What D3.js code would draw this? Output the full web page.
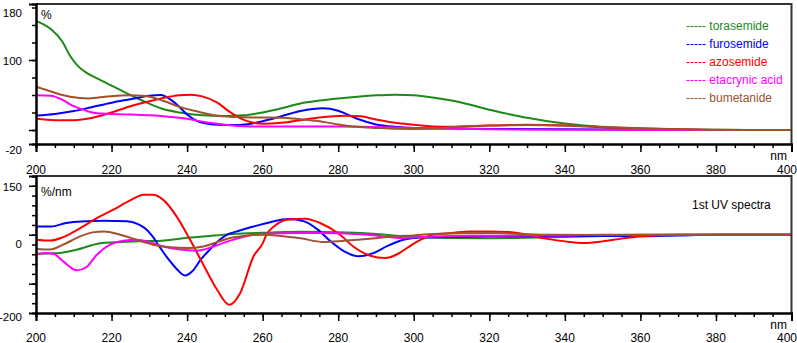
<!DOCTYPE html>
<html>
<head>
<meta charset="utf-8">
<script src="https://cdn.jsdelivr.net/npm/d3@7"></script>
<style>
  body { margin: 0; background: #fff; }
  svg { display: block; font-family: "Liberation Sans", Arial, sans-serif; }
</style>
</head>
<body>
<div id="chart"></div>
<script>
// series names + colours
const names = ['torasemide', 'furosemide', 'azosemide', 'etacrynic acid', 'bumetanide'];
const colors = ['#1b8a1b', '#0000ff', '#ff0000', '#ff00ff', '#a0522d'];

// x ticks (nm)
const majorNm = [200, 220, 240, 260, 280, 300, 320, 340, 360, 380, 400];

// zero order spectra, [nm, %]
const toraAbs = [[200,156],[202,151],[204,144],[207,126],[209,106],[211,92],[213,83],[216,74],[219,66],[222,58],[225,50],[229,40],[233,31],[238,25],[244,21],[250,20],[255,21],[260,25],[265,31],[270,38],[275,42],[280,45],[285,47.5],[290,49.5],[295,50.5],[300,49.7],[305,46.5],[310,42],[315,36],[320,29],[325,23],[330,17.5],[335,13],[340,9.3],[345,6.3],[350,4],[355,2.4],[360,1.3],[370,0.5],[380,0.2],[400,0]];
const furoAbs = [[200,20.7],[205,23],[210,27],[215,33],[220,39],[225,44],[230,49],[233,50],[236,42],[238,33],[240,22],[243,12],[247,8],[252,7],[256,8.3],[260,12.6],[265,19.7],[270,27],[276,31],[280,27.5],[285,16],[290,8],[295,4.6],[300,3],[310,2],[320,1.5],[340,1],[360,0.5],[380,0],[400,0]];
const azoAbs = [[200,16],[205,14],[210,14],[215,17.5],[220,25],[225,34],[230,41],[234,46],[238,49.5],[241,50.3],[244,48],[248,39],[251,27],[254,17],[257,11],[260,9],[265,10.3],[270,14],[275,18],[282,20.5],[286,19.5],[290,15],[295,10.3],[300,7.5],[305,5],[310,4.6],[320,6.4],[330,7.4],[340,6.4],[350,4],[360,2],[370,1],[380,0],[400,0]];
const etaAbs = [[200,49.7],[204,49],[207,43],[210,34],[213,28],[216,24],[220,23],[225,22],[230,21],[235,19],[240,16],[245,11],[250,7.5],[255,5.5],[260,5],[280,5],[300,3],[320,1],[340,0.5],[360,0],[400,0]];
const bumAbs = [[200,61.7],[204,55],[207,50],[211,46],[214,45],[219,48],[225,49.7],[229,48.5],[234,41],[238,33],[243,26],[247,21],[251,19],[255,18.3],[260,17.9],[265,17.5],[270,15.4],[275,12.6],[280,8],[285,4.6],[290,3],[295,1.8],[300,1.6],[305,2.5],[310,4],[320,6.4],[330,7],[340,6.4],[350,4.6],[360,2.4],[370,1],[380,0.3],[400,0]];

// 1st derivative spectra, [nm, %/nm]
const toraDer = [[200,-48.5],[205,-47.5],[208,-44],[211,-38],[214,-29],[217,-22],[221,-19.5],[227,-17],[234,-14.5],[240,-8],[246,-3],[252,1.5],[260,5],[270,7.5],[280,6.5],[290,2],[300,-6],[310,-8.5],[320,-9],[330,-8],[340,-6],[350,-3],[360,-1],[370,0],[400,0]];
const furoDer = [[200,21],[204,21],[208,30],[212,34],[218,35.5],[224,34.5],[227,27],[229,15],[230.5,0],[233,-35],[235,-62],[237.3,-88],[239.4,-104],[241.5,-92],[243.5,-65],[246,-38],[248.5,-14],[251,2],[253.2,8.5],[257.6,21],[262,32],[266.8,40],[271,34],[274.6,13],[278,-17],[281.6,-42.5],[285.3,-55],[289.3,-47],[292.8,-30],[297.2,-13],[301.7,-7],[310,-6],[320,-4],[340,-3],[360,-4],[370,-2],[380,0],[400,0]];
const azoDer = [[200,-12.8],[203.7,-15],[207.2,-6],[211.7,17],[216.1,42.5],[220.5,64],[224.9,87.5],[228.5,102],[231,102],[233.7,89],[237.2,47],[240.8,-13],[244.3,-76.5],[247.9,-140],[251.2,-179],[254,-150],[257.6,-55],[260,-22],[261,0],[263,21],[266.4,38],[271.3,41],[275.2,30],[280.5,0],[284,-30],[288.5,-53.6],[292.4,-59.5],[296,-48],[298.5,-32],[302,-12],[305,0],[310,4.3],[315,8.5],[320,8.5],[325,6.8],[330,0],[335,-10],[340,-17],[345,-21],[350,-17],[355,-10],[360,-4],[370,0],[400,0]];
const etaDer = [[200,-51],[202.4,-47],[204.6,-48.5],[207.2,-68],[210.8,-91],[213.4,-82.5],[216.1,-51],[219.6,-25.5],[223.1,-15.3],[226.6,-12.8],[230.2,-19.6],[233.7,-30],[238.1,-38],[242.6,-40.8],[247,-30],[251.4,-15],[255,-5],[260,2.5],[270,4.3],[280,4],[290,-2],[296,-8.5],[301.7,-6],[310,-3],[320,-2.5],[340,-2],[350,0],[400,0]];
const bumDer = [[200,-35.7],[203.7,-38],[207.2,-25.5],[211.7,-4.3],[215,6],[218,8.5],[222.3,0],[226.6,-12.8],[231,-25.5],[235.5,-32],[239.9,-34],[244.3,-30],[247.9,-19],[251.4,-8.5],[255,-3],[260,0],[265,-3],[270,-9],[276,-18.5],[281,-16],[286,-12],[290,-9],[295,-4],[300,-1.7],[305,1.7],[320,4.3],[335,0],[350,-1],[360,0],[400,0]];

const width = 797, height = 343;
const left = 36, right = 791.5;

const svg = d3.select('#chart').append('svg')
    .attr('width', width)
    .attr('height', height);

const x = d3.scaleLinear().domain([200, 400]).range([left, right]);

function drawPanel(cfg) {
    const y = d3.scaleLinear().domain(cfg.domain).range([cfg.bottom, cfg.top]);
    const g = svg.append('g');

    const clipId = 'clip' + cfg.id;
    svg.append('clipPath').attr('id', clipId)
        .append('rect')
        .attr('x', left).attr('y', cfg.top)
        .attr('width', right - left).attr('height', cfg.bottom - cfg.top);

    const line = d3.line()
        .x(d => x(d[0]))
        .y(d => y(d[1]))
        .curve(d3.curveMonotoneX);

    cfg.series.forEach((s, i) => {
        g.append('path')
            .datum(s)
            .attr('clip-path', `url(#${clipId})`)
            .attr('fill', 'none')
            .attr('stroke', colors[i])
            .attr('stroke-width', 2)
            .attr('d', line);
    });

    // frame: top + right in dark grey
    g.append('path')
        .attr('d', `M${left},${cfg.top}H${right}V${cfg.bottom}`)
        .attr('fill', 'none')
        .attr('stroke', '#333')
        .attr('stroke-width', 2);

    // x axis, minor + major ticks
    const xMinor = g.append('g')
        .attr('transform', `translate(0,${cfg.bottom})`)
        .call(d3.axisBottom(x).tickValues(d3.range(200, 401, 5)).tickSize(4).tickFormat(''));
    const xMajor = g.append('g')
        .attr('transform', `translate(0,${cfg.bottom})`)
        .call(d3.axisBottom(x).tickValues(majorNm).tickSize(8).tickFormat(''));

    // y axis
    const yMinor = g.append('g')
        .attr('transform', `translate(${left},0)`)
        .call(d3.axisLeft(y).tickValues(cfg.minorTicks).tickSize(4).tickFormat(''));
    const yMajor = g.append('g')
        .attr('transform', `translate(${left},0)`)
        .call(d3.axisLeft(y).tickValues(cfg.majorTicks).tickSize(7).tickFormat(''));

    [xMinor, xMajor, yMinor, yMajor].forEach(a => {
        a.select('.domain').attr('stroke', '#000').attr('stroke-width', 2);
        a.selectAll('.tick line').attr('stroke', '#000').attr('stroke-width', 1.5);
    });

    // x labels; the last one is pushed in so it stays on the page
    g.selectAll('.xlab')
        .data(majorNm)
        .enter().append('text')
        .attr('x', d => d === 400 ? width : x(d))
        .attr('y', cfg.bottom + cfg.xLabDy)
        .attr('text-anchor', d => d === 400 ? 'end' : 'middle')
        .attr('font-size', 12)
        .text(d => d);

    g.append('text')
        .attr('x', 787)
        .attr('y', cfg.bottom + 16)
        .attr('text-anchor', 'end')
        .attr('font-size', 12)
        .text('nm');

    // y labels (with the small vertical shifts seen in the original)
    cfg.labels.forEach((v, i) => {
        g.append('text')
            .attr('x', 22)
            .attr('y', y(v) + cfg.labelShift[i] + 4)
            .attr('text-anchor', 'end')
            .attr('font-size', 11.5)
            .text(v);
    });

    g.append('text')
        .attr('x', 41)
        .attr('y', cfg.top + cfg.unitDy)
        .attr('font-size', 12)
        .text(cfg.unit);

    return g;
}

drawPanel({
    id: 'a',
    top: 4, bottom: 144,
    domain: [-20, 180],
    series: [toraAbs, furoAbs, azoAbs, etaAbs, bumAbs],
    minorTicks: d3.range(0, 180, 25),
    majorTicks: [0, 100],
    labels: [180, 100, -20],
    labelShift: [9, 1, 6],
    unit: '%',
    unitDy: 15,
    xLabDy: 30
});

const bottomPanel = drawPanel({
    id: 'b',
    top: 176, bottom: 313,
    domain: [-200, 150],
    series: [toraDer, furoDer, azoDer, etaDer, bumDer],
    minorTicks: d3.range(-175, 151, 25),
    majorTicks: [-125, 0, 125],
    labels: [150, 0, -200],
    labelShift: [11, 9, 4],
    unit: '%/nm',
    unitDy: 20,
    xLabDy: 28.5
});

bottomPanel.append('text')
    .attr('x', 692)
    .attr('y', 209)
    .attr('font-size', 12)
    .text('1st UV spectra');

// legend
svg.append('g')
    .selectAll('text')
    .data(names)
    .enter().append('text')
    .attr('x', 686)
    .attr('y', (d, i) => 30 + i * 18)
    .attr('font-size', 12)
    .attr('fill', (d, i) => colors[i])
    .text(d => '----- ' + d);
</script>
</body>
</html>
